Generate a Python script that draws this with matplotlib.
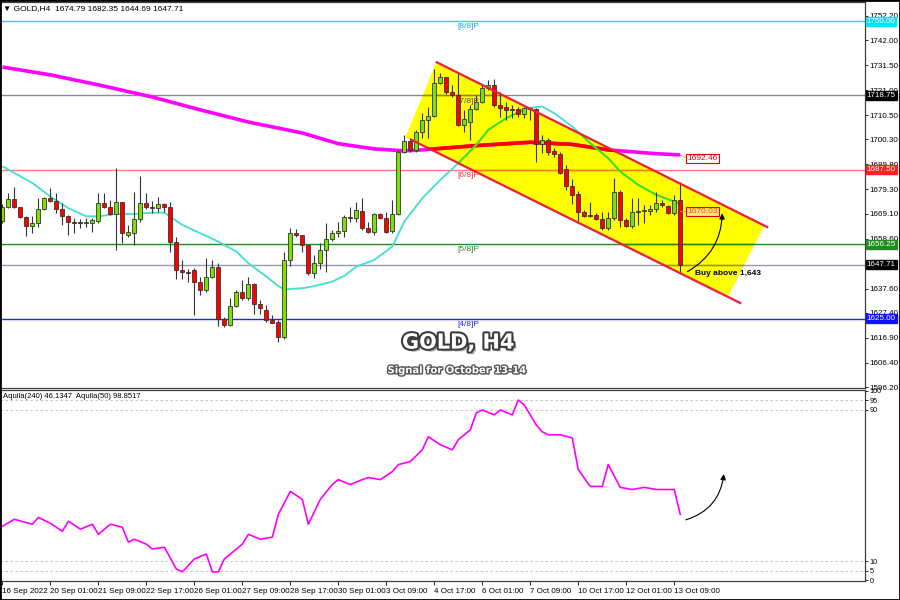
import matplotlib
matplotlib.use('Agg')
import matplotlib.pyplot as plt
import matplotlib.patheffects as pe
from matplotlib.patches import Polygon, FancyArrowPatch, Rectangle
from matplotlib.colors import to_rgb

plt.rcParams['font.family'] = ['Liberation Sans', 'DejaVu Sans']

# ---- candles (H4, 16 Sep 17:00 -> 13 Oct 13:00) ----
opens = [1666.0, 1671.8, 1675.1, 1671.8, 1667.9, 1664.0, 1665.1, 1671.0, 1675.8, 1674.6,
         1671.0, 1668.1, 1665.6, 1665.3, 1665.2, 1665.1, 1666.2, 1673.7, 1672.1, 1669.0,
         1673.9, 1660.2, 1661.1, 1666.7, 1673.5, 1672.1, 1671.4, 1673.2, 1672.1, 1657.4,
         1645.5, 1644.8, 1645.5, 1640.6, 1637.1, 1642.4, 1646.6, 1624.7, 1622.4, 1630.3,
         1636.4, 1633.6, 1639.4, 1631.2, 1628.7, 1624.5, 1623.8, 1617.2, 1649.7, 1660.9,
         1660.2, 1656.0, 1644.1, 1648.3, 1653.9, 1658.4, 1660.9, 1662.0, 1667.9, 1667.2,
         1670.2, 1663.2, 1661.6, 1668.8, 1667.2, 1661.8, 1668.8, 1695.2, 1699.6, 1695.9,
         1703.3, 1708.5, 1710.3, 1723.9, 1726.3, 1720.1, 1719.0, 1706.4, 1707.8, 1713.1,
         1716.2, 1721.8, 1723.2, 1714.8, 1714.1, 1712.9, 1712.9, 1710.8, 1713.4, 1713.1,
         1698.2, 1700.1, 1695.5, 1694.1, 1688.0, 1680.6, 1677.4, 1670.0, 1668.3, 1668.6,
         1666.8, 1663.0, 1667.2, 1678.4, 1666.5, 1664.0, 1670.0, 1670.3, 1670.4, 1671.0,
         1673.7, 1672.5, 1669.3, 1674.79]
highs = [1673.0, 1677.9, 1680.2, 1672.1, 1668.0, 1668.1, 1675.6, 1676.3, 1679.8, 1677.9,
         1673.5, 1668.6, 1667.2, 1666.9, 1667.4, 1667.2, 1677.7, 1677.9, 1674.9, 1688.2,
         1674.2, 1664.4, 1678.4, 1685.0, 1677.9, 1674.6, 1676.3, 1673.5, 1674.2, 1659.5,
         1649.7, 1645.7, 1646.2, 1642.7, 1650.4, 1649.7, 1648.3, 1625.9, 1633.6, 1637.1,
         1641.3, 1642.7, 1639.9, 1632.9, 1630.8, 1626.6, 1624.5, 1653.2, 1663.0, 1662.7,
         1660.2, 1656.0, 1651.8, 1656.7, 1665.4, 1662.3, 1665.8, 1668.6, 1672.0, 1674.2,
         1675.6, 1665.8, 1669.3, 1669.3, 1670.0, 1674.9, 1695.9, 1702.2, 1700.8, 1704.3,
         1711.3, 1714.1, 1729.9, 1728.1, 1726.7, 1723.2, 1728.8, 1712.7, 1714.8, 1718.9,
         1723.2, 1725.3, 1725.7, 1720.4, 1716.2, 1714.8, 1714.1, 1714.1, 1714.1, 1713.6,
         1702.2, 1700.8, 1696.6, 1695.2, 1689.6, 1683.5, 1678.5, 1670.7, 1674.2, 1669.3,
         1670.0, 1670.0, 1684.0, 1679.1, 1667.2, 1675.6, 1675.6, 1672.8, 1672.8, 1678.4,
         1674.9, 1672.8, 1677.0, 1682.35]
lows = [1665.0, 1671.4, 1671.4, 1667.2, 1659.7, 1661.1, 1663.6, 1670.7, 1674.2, 1669.3,
        1664.4, 1660.2, 1660.9, 1663.0, 1663.7, 1661.6, 1665.0, 1671.4, 1668.5, 1653.9,
        1656.7, 1659.5, 1656.0, 1665.8, 1671.0, 1669.5, 1670.0, 1670.0, 1653.2, 1641.5,
        1641.5, 1640.6, 1626.6, 1635.0, 1636.4, 1642.0, 1621.9, 1621.7, 1621.9, 1630.0,
        1632.9, 1632.9, 1627.0, 1627.0, 1623.8, 1623.0, 1615.4, 1616.4, 1647.1, 1659.2,
        1653.2, 1643.4, 1642.0, 1645.7, 1644.8, 1657.8, 1659.5, 1659.5, 1665.8, 1665.8,
        1662.3, 1660.9, 1660.2, 1666.9, 1660.9, 1660.9, 1668.6, 1694.5, 1695.2, 1695.2,
        1700.8, 1700.8, 1709.9, 1723.4, 1719.2, 1718.3, 1706.1, 1703.6, 1700.1, 1712.7,
        1715.5, 1721.1, 1714.1, 1709.9, 1708.5, 1709.2, 1709.9, 1709.2, 1708.5, 1691.0,
        1694.5, 1693.8, 1693.1, 1685.6, 1679.1, 1673.0, 1666.0, 1667.6, 1667.9, 1666.5,
        1662.3, 1662.3, 1666.5, 1663.7, 1663.4, 1663.0, 1664.4, 1665.1, 1668.6, 1670.0,
        1672.0, 1669.0, 1668.6, 1644.69]
closes = [1672.0, 1675.1, 1671.8, 1667.9, 1664.0, 1665.1, 1671.0, 1675.8, 1674.6, 1671.0,
          1668.1, 1665.6, 1665.3, 1665.2, 1665.4, 1666.5, 1673.7, 1672.1, 1669.0, 1673.9,
          1660.9, 1661.6, 1666.7, 1673.5, 1672.1, 1671.4, 1673.2, 1672.1, 1657.4, 1645.5,
          1644.8, 1644.1, 1640.6, 1637.1, 1642.4, 1646.6, 1624.7, 1622.4, 1630.3, 1636.4,
          1633.6, 1639.4, 1631.2, 1629.4, 1624.5, 1623.3, 1617.2, 1649.7, 1660.9, 1660.0,
          1656.0, 1644.1, 1648.3, 1653.9, 1658.4, 1660.9, 1662.0, 1667.9, 1667.4, 1670.7,
          1663.2, 1661.6, 1668.8, 1667.2, 1661.6, 1668.8, 1695.2, 1699.6, 1695.9, 1703.3,
          1708.5, 1710.3, 1723.9, 1726.7, 1720.1, 1719.0, 1706.4, 1708.7, 1713.1, 1716.2,
          1721.8, 1723.2, 1714.8, 1713.6, 1712.7, 1712.7, 1710.8, 1713.4, 1713.1, 1698.2,
          1700.1, 1695.2, 1694.1, 1686.1, 1680.6, 1677.1, 1670.0, 1668.2, 1668.2, 1666.8,
          1663.0, 1667.2, 1678.4, 1666.5, 1664.0, 1670.0, 1670.3, 1670.4, 1671.0, 1673.5,
          1672.8, 1669.3, 1674.9, 1647.71]

x_label_idx = [0, 8, 16, 24, 32, 40, 48, 56, 64, 72, 80, 88, 96, 104, 112]
x_labels = ['16 Sep 2022', '20 Sep 01:00', '21 Sep 09:00', '22 Sep 17:00', '26 Sep 01:00',
            '27 Sep 09:00', '28 Sep 17:00', '30 Sep 01:00', '3 Oct 09:00', '4 Oct 17:00',
            '6 Oct 01:00', '7 Oct 09:00', '10 Oct 17:00', '12 Oct 01:00', '13 Oct 09:00']

# fast moving average (turquoise)
ma_fast_idx = [0, 5, 8, 11, 14, 16, 19, 22, 25, 27, 30, 33, 36, 39, 41, 44, 46, 47, 50, 52,
               55, 57, 59, 62, 65, 67, 70, 73, 76, 79, 81, 84, 86, 88, 90, 92, 95, 98, 101,
               103, 106, 109, 112, 113]
ma_fast_val = [1689.0, 1682.0, 1676.3, 1671.4, 1668.0, 1668.0, 1669.0, 1669.0, 1669.5, 1669.5,
               1664.4, 1660.9, 1657.4, 1653.2, 1648.3, 1642.7, 1638.7, 1637.3, 1637.8, 1638.7,
               1640.6, 1643.0, 1646.9, 1649.7, 1655.3, 1665.8, 1675.6, 1683.3, 1690.3, 1698.0,
               1704.3, 1709.2, 1711.7, 1713.6, 1714.1, 1711.3, 1705.7, 1698.7, 1692.4, 1686.8,
               1681.2, 1677.0, 1674.2, 1673.3]

# slow moving average (magenta)
ma_slow_idx = [0, 8, 16, 25, 33, 41, 50, 56, 62, 67, 70, 79, 88, 95, 101, 109, 113]
ma_slow_val = [1730.7, 1727.4, 1723.2, 1718.1, 1712.7, 1707.6, 1703.0, 1698.5, 1696.3, 1695.5,
               1695.9, 1697.7, 1699.1, 1698.2, 1695.9, 1694.3, 1693.8]

# Murrey levels
levels = [1750.00, 1718.75, 1687.50, 1656.25, 1625.00]
level_names = ['[8/8]P', '[7/8]P', '[6/8]P', '[5/8]P', '[4/8]P']
last_price = 1647.71

# descending channel (bar index, price)
chan_up_idx, chan_up_val = [72.4, 127.5], [1732.7, 1663.5]
chan_lo_idx, chan_lo_val = [68.2, 123.0], [1700.1, 1631.6]
chan_fill_idx = [72.3, 127.0, 121.0, 67.2]
chan_fill_val = [1732.4, 1663.9, 1634.5, 1701.3]

# Aquila oscillator
aq_idx = [0, 2, 5, 6, 8, 10, 11, 13, 15, 16, 18, 20, 21, 22, 24, 25, 27, 29, 30, 32,
          34, 35, 36, 37, 39, 40, 41, 43, 45, 46, 48, 50, 51, 53, 55, 56, 58, 60, 61, 63,
          65, 66, 68, 70, 71, 73, 75, 76, 78, 79, 80, 82, 83, 85, 86, 87, 88, 89, 90, 91,
          93, 95, 96, 98, 100, 101, 103, 105, 107, 109, 112, 113]
aq_val = [28.5, 32.2, 29.6, 33.2, 30.1, 25.9, 31.2, 27.0, 29.6, 24.3, 29.6, 28.0, 20.2, 21.7,
          19.1, 16.5, 17.5, 6.0, 4.5, 11.3, 13.9, 4.5, 4.5, 11.3, 16.5, 19.1, 24.3, 21.7, 22.8,
          34.8, 46.9, 42.7, 29.6, 42.7, 50.5, 53.1, 50.5, 53.1, 54.2, 53.1, 57.3, 61.0, 62.6,
          68.8, 75.7, 71.5, 68.8, 74.1, 79.3, 88.2, 89.8, 87.2, 89.8, 87.2, 95.0, 92.4, 87.2,
          81.9, 78.3, 76.7, 76.7, 75.1, 58.4, 49.5, 49.5, 61.0, 49.0, 47.9, 49.0, 47.9, 47.9,
          34.8]


def on_yellow(c):
    # colour seen through the yellow channel (multiply blend)
    r, g, b = to_rgb(c)
    return (r, g, 0.0)


fig = plt.figure(figsize=(9, 6), dpi=100)
ax = fig.add_axes([0.0, 212 / 600, 865 / 900, 386 / 600])
ax2 = fig.add_axes([0.0, 19 / 600, 865 / 900, 191 / 600], sharex=ax)

ax.set_xlim(-0.4, 143.8)
ax.set_ylim(1595.9, 1758.0)
ax2.set_ylim(-0.3, 100.3)

chan = Polygon(list(zip(chan_fill_idx, chan_fill_val)), closed=True,
               facecolor='#FFFF00', edgecolor='none', zorder=1)
ax.add_patch(chan)


def line_with_tint(xs, ys, color, lw, z):
    ax.plot(xs, ys, color=color, lw=lw, zorder=z, solid_capstyle='butt')
    l, = ax.plot(xs, ys, color=on_yellow(color), lw=lw, zorder=z + 0.01,
                 solid_capstyle='butt')
    l.set_clip_path(chan)


xmin, xmax = ax.get_xlim()
level_colors = ['#00E5FF', '#8C8C8C', '#FF7A7A', '#1E8C1E', '#2020FF']
level_text_colors = ['#1AA6FF', '#505050', '#E03C3C', '#2E8B2E', '#1E1EFF']
tag_faces = ['#00E5FF', '#000000', '#FF2020', '#1E8C1E', '#1010FF']
for lv, nm, lc, tc, fc in zip(levels, level_names, level_colors, level_text_colors, tag_faces):
    line_with_tint([xmin, xmax], [lv, lv], lc, 1.0, 2)
    ax.text(77.7, lv - 0.9, nm, color=tc, fontsize=6, ha='center', va='top', zorder=5)
    ax.text(1.002, lv, '%.2f' % lv, transform=ax.get_yaxis_transform(), fontsize=5.8,
            color='white', ha='left', va='center', clip_on=False, zorder=10,
            bbox=dict(boxstyle='square,pad=0.12', fc=fc, ec=fc))

line_with_tint([xmin, xmax], [last_price, last_price], '#9A9AAE', 1.0, 2)
ax.text(1.002, last_price, '%.2f' % last_price, transform=ax.get_yaxis_transform(),
        fontsize=5.8, color='white', ha='left', va='center', clip_on=False, zorder=10,
        bbox=dict(boxstyle='square,pad=0.12', fc='black', ec='black'))

line_with_tint(ma_slow_idx, ma_slow_val, '#FF00FF', 2.6, 2.2)
line_with_tint(ma_fast_idx, ma_fast_val, '#40E0D0', 1.3, 2.3)

# candles
for i, (o, h, l, c) in enumerate(zip(opens, highs, lows, closes)):
    ax.vlines(i, l, h, color='#333333', lw=0.8, zorder=3)
    bottom = min(o, c)
    height = max(abs(c - o), 0.25)
    face = '#7CE000' if c >= o else '#FF0000'
    ax.add_patch(Rectangle((i - 0.33, bottom), 0.66, height, facecolor=face,
                           edgecolor='#333333', lw=0.6, zorder=3.1))

# channel borders
ax.plot(chan_up_idx, chan_up_val, color='#E8203C', lw=1.6, zorder=4)
ax.plot(chan_lo_idx, chan_lo_val, color='#E8203C', lw=1.6, zorder=4)

# price tags
ax.plot([113, 114], [1693.8, 1692.46], color='#FF8080', lw=0.6, zorder=4)
ax.text(114.2, 1692.46, '1692.46', color='#E00000', fontsize=6, ha='left', va='center',
        zorder=6, bbox=dict(boxstyle='square,pad=0.12', fc='white', ec='#E00000', lw=0.8))
ax.plot([113, 114], [1670.03, 1670.03], color='#FF8080', lw=0.6, zorder=4)
ax.text(114.2, 1670.03, '1670.03', color='#FF5000', fontsize=6, ha='left', va='center',
        zorder=6, bbox=dict(boxstyle='square,pad=0.12', fc='#FFE680', ec='#E00000', lw=0.8))

ax.add_patch(FancyArrowPatch((113.8, 1644.2), (120.0, 1670.4),
                             connectionstyle='arc3,rad=0.3', arrowstyle='-|>',
                             mutation_scale=8, color='black', lw=0.8, zorder=6))
ax.text(115.5, 1643.8, 'Buy above 1,643', fontsize=6, weight='bold', color='black',
        ha='left', va='center', zorder=6)

ax.text(0.004, 0.984, '\u25bc GOLD,H4  1674.79 1682.35 1644.69 1647.71',
        transform=ax.transAxes, fontsize=6, ha='left', va='center', zorder=10)

# right price scale
yt = [1752.20, 1742.00, 1731.50, 1721.00, 1710.50, 1700.30, 1689.80, 1679.30, 1669.10,
      1658.60, 1648.10, 1637.60, 1627.40, 1616.90, 1606.40, 1596.20]
ax.yaxis.tick_right()
ax.set_yticks(yt)
ax.set_yticklabels(['%.2f' % v for v in yt])
ax.tick_params(axis='y', labelsize=5.8, length=2.5, width=0.6, pad=1)
ax.tick_params(axis='x', bottom=False, labelbottom=False)

# oscillator
for v in [95, 90, 10, 5]:
    ax2.axhline(v, color='#BBBBBB', lw=0.6, ls=(0, (3, 3)), zorder=1)
ax2.plot(aq_idx, aq_val, color='#FF00FF', lw=1.2, zorder=3)
ax2.add_patch(FancyArrowPatch((113.5, 31.5), (120.3, 57.5),
                              connectionstyle='arc3,rad=0.35', arrowstyle='-|>',
                              mutation_scale=8, color='black', lw=0.8, zorder=4))
ax2.text(0.004, 0.965, 'Aquila(240) 46.1347  Aquila(50) 98.8517',
         transform=ax2.transAxes, fontsize=5.5, ha='left', va='center')
ax2.yaxis.tick_right()
ax2.set_yticks([100, 95, 90, 10, 5, 0])
ax2.set_yticklabels(['100', '95', '90', '10', '5', '0'])
ax2.tick_params(axis='y', labelsize=5.2, length=2.5, width=0.6, pad=1)
ax2.set_xticks(x_label_idx)
ax2.set_xticklabels(x_labels)
ax2.tick_params(axis='x', labelsize=5.8, length=3, width=0.6, pad=2)
for t in ax2.get_xticklabels():
    t.set_ha('left')

for a in (ax, ax2):
    for s in a.spines.values():
        s.set_color('#404040')
        s.set_linewidth(0.9)

fig.text(0.509, 0.429, 'GOLD, H4', fontsize=15, weight='bold', color='white',
         ha='center', va='center', family=['DejaVu Sans'],
         path_effects=[pe.SimplePatchShadow(offset=(2, -2), shadow_rgbFace='#999999', alpha=0.8),
                       pe.Stroke(linewidth=3, foreground='#3C3C3C'), pe.Normal()])
fig.text(0.508, 0.383, 'Signal for October 13-14', fontsize=7.2, weight='bold', color='white',
         ha='center', va='center', family=['DejaVu Sans'],
         path_effects=[pe.SimplePatchShadow(offset=(1, -1), shadow_rgbFace='#aaaaaa', alpha=0.8),
                       pe.Stroke(linewidth=2, foreground='#555555'), pe.Normal()])

fig.patches.append(Rectangle((0, 0), 1, 1, transform=fig.transFigure, fill=False,
                             edgecolor='black', lw=2))

fig.savefig('out.png', dpi=100)
